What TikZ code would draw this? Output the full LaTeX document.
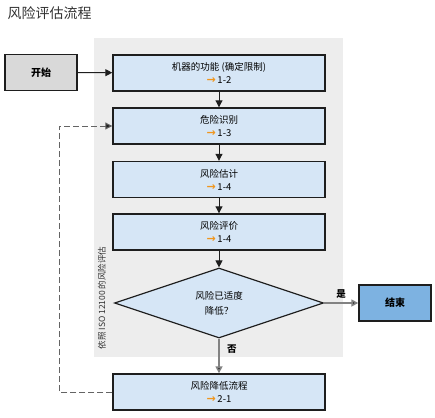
\documentclass[tikz,border=0pt]{standalone}
\usepackage{fontspec}
\setmainfont{Noto Sans CJK SC}
\newfontfamily\arrowfont{DejaVu Sans}
\usetikzlibrary{shapes.geometric,arrows.meta}

\definecolor{stepfill}{RGB}{214,230,246}
\definecolor{endfill}{RGB}{125,178,225}
\definecolor{startfill}{RGB}{217,217,217}
\definecolor{bgfill}{RGB}{237,237,237}
\definecolor{framecol}{RGB}{30,30,30}
\definecolor{refcol}{RGB}{240,150,30}
\definecolor{linecol}{RGB}{130,130,130}
\definecolor{dashcol}{RGB}{100,100,100}

\newcommand{\stepref}[1]{{\arrowfont\bfseries\fontsize{11}{13}\selectfont\textcolor{refcol}{→}}\,#1}

\tikzset{every picture/.style={line width=0.75pt}}

\begin{document}
\begin{tikzpicture}[x=1pt,y=1pt,yscale=-1,xscale=1,
	stepbox/.style={draw=framecol,line width=1.4pt,fill=stepfill,minimum width=212pt,minimum height=36pt,align=center,font=\fontsize{9.5}{13}\selectfont,inner sep=0pt},
	termbox/.style={draw=framecol,line width=1.4pt,minimum width=72pt,minimum height=36pt,font=\fontsize{10}{12}\selectfont\bfseries,inner sep=0pt},
	decision/.style={diamond,draw=framecol,line width=1.2pt,fill=stepfill,minimum width=209pt,minimum height=70pt,aspect=3,inner sep=0pt,align=center,font=\fontsize{9.5}{15}\selectfont},
	flow/.style={draw=framecol,line width=1pt,-{Triangle[length=7pt,width=7pt]}},
	flowgray/.style={draw=linecol,line width=1.6pt,-{Triangle[length=7pt,width=7pt,fill=framecol]}},
	loopback/.style={draw=dashcol,line width=1pt,dash pattern=on 6pt off 3pt,-{Triangle[length=7pt,width=7pt,fill=framecol]}}]
	\useasboundingbox (0,0) rectangle (435,417);

	% Title
	\node[anchor=west,font=\fontsize{14}{16}\selectfont,text=black!80] (title) at (4,13) {风险评估流程};

	% Background of the assessment part
	\fill[bgfill] (94,38) rectangle (343,357);
	\node[rotate=90,font=\fontsize{8.5}{10}\selectfont,text=black!80] (scope) at (102,298) {依照 ISO 12100 的风险评估};

	% Steps
	\node[termbox,fill=startfill] (start) at (41,72.5) {开始};
	\node[stepbox] (limits) at (219,73) {机器的功能 (确定限制)\\\stepref{1-2}};
	\node[stepbox] (hazard) at (219,126) {危险识别\\\stepref{1-3}};
	\node[stepbox] (estimate) at (219,179.5) {风险估计\\\stepref{1-4}};
	\node[stepbox] (evaluate) at (219,232) {风险评价\\\stepref{1-4}};
	\node[decision] (check) at (219,303) {风险已适度\\降低？};
	\node[termbox,fill=endfill] (finish) at (395,303) {结束};
	\node[stepbox] (reduce) at (219,392) {风险降低流程\\\stepref{2-1}};

	% Connectors
	\draw[flow] (start) -- (limits);
	\draw[flow] (limits) -- (hazard);
	\draw[flow] (hazard) -- (estimate);
	\draw[flow] (estimate) -- (evaluate);
	\draw[flow] (evaluate) -- (check);
	\draw[flowgray] (check.east) -- node[above,font=\fontsize{9.5}{11}\selectfont\bfseries] (yes) {是} (finish.west);
	\draw[flowgray] (check.south) -- node[pos=0.3,right=4pt,font=\fontsize{9.5}{11}\selectfont\bfseries] (no) {否} (reduce.north);
	\draw[loopback] (reduce.west) -- ++(-53,0) |- (hazard.west);

\end{tikzpicture}
\end{document}
